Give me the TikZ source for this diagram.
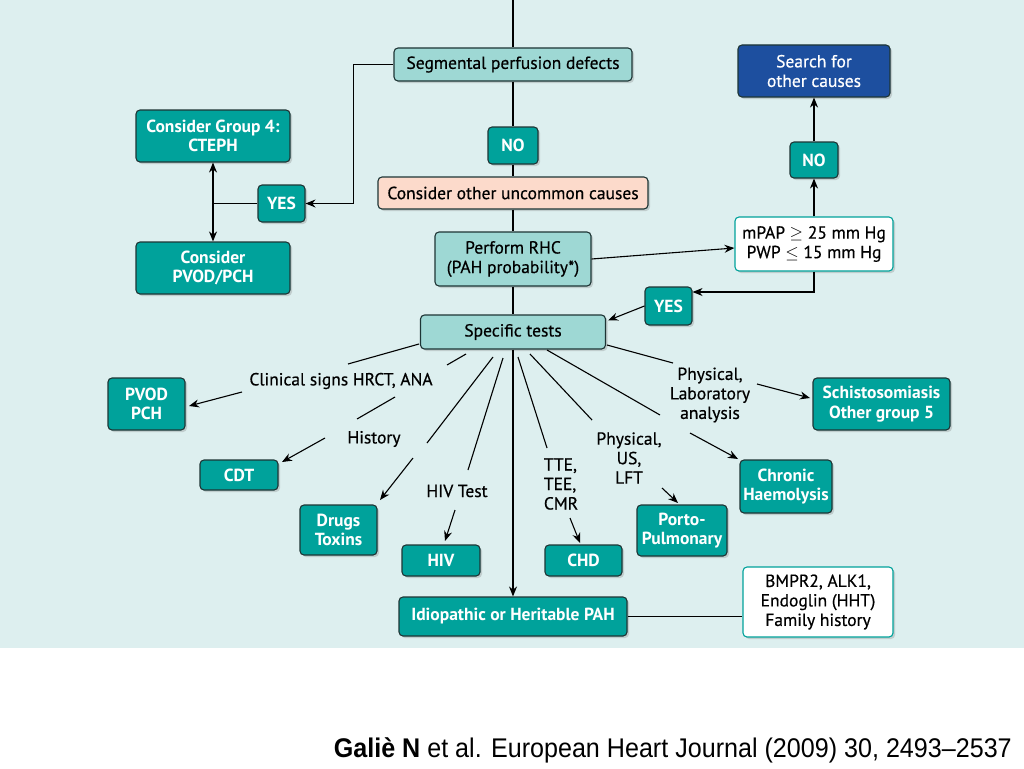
\documentclass[tikz,border=0pt]{standalone}
\usepackage{fontspec}
\setmainfont{PT Sans}
\newfontfamily\medfont[FakeBold=0.5]{PT Sans}
\newfontfamily\capfont[FakeStretch=0.93]{Liberation Sans}
\usetikzlibrary{shadows,arrows.meta}
\definecolor{bgc}{HTML}{DDEFEF}
\definecolor{tealc}{HTML}{00A29B}
\definecolor{lightc}{HTML}{9ED8D4}
\definecolor{pinkc}{HTML}{FCDACB}
\definecolor{bluec}{HTML}{1D4F9F}
\definecolor{edgec}{HTML}{1E3535}
\begin{document}
\begin{tikzpicture}[x=1pt,y=-1pt,
  every node/.style={font=\medfont\fontsize{17.5}{19.5}\selectfont},
  box/.style={rounded corners=4pt, draw=edgec, line width=1.1pt, align=center, inner sep=2pt,
    drop shadow={shadow xshift=2pt, shadow yshift=-2pt, opacity=0.3}},
  tbox/.style={box, fill=tealc, text=white, font=\fontsize{17.5}{19.5}\selectfont\bfseries},
  lbox/.style={box, fill=lightc},
  wbox/.style={box, fill=white, draw=tealc},
  lbl/.style={align=center, inner sep=1pt},
  conn/.style={line width=1.1pt, draw=black},
  arr/.style={conn, -{Stealth[length=10pt,width=8pt]}},
  arrb/.style={conn, {Stealth[length=10pt,width=8pt]}-{Stealth[length=10pt,width=8pt]}}
]
\fill[white] (0,0) rectangle (1024,768);
\fill[bgc] (0,0) rectangle (1024,648);
\useasboundingbox (0,0) rectangle (1024,768);

% main column
\coordinate (top) at (513,0);
\node[lbox, minimum width=238, minimum height=33] (seg) at (513,64.5) {Segmental perfusion defects};
\node[tbox, minimum width=50, minimum height=37] (no1) at (513,145.5) {NO};
\node[box, fill=pinkc, minimum width=270, minimum height=32] (other) at (513,193) {Consider other uncommon causes};
\node[lbox, minimum width=156, minimum height=54] (rhc) at (513,259) {Perform RHC\\(PAH probability*)};
\node[lbox, minimum width=185, minimum height=34] (spec) at (513,332) {Specific tests};
\node[tbox, minimum width=228, minimum height=39] (idio) at (513,616.5) {Idiopathic or Heritable PAH};

% left top
\node[tbox, minimum width=154, minimum height=52] (g4) at (213,136) {Consider Group 4:\\CTEPH};
\node[tbox, minimum width=47, minimum height=37] (yes1) at (281.5,203.5) {YES};
\node[tbox, minimum width=154, minimum height=52] (pvod1) at (213,268) {Consider\\PVOD/PCH};

% right top
\node[wbox, minimum width=158, minimum height=54] (mpap) at (814,244) {mPAP $\geq$ 25 mm Hg\\PWP $\leq$ 15 mm Hg};
\node[tbox, minimum width=48, minimum height=36] (no2) at (814,160) {NO};
\node[box, fill=bluec, text=white, minimum width=152, minimum height=52] (search) at (814,71) {Search for\\other causes};
\node[tbox, minimum width=47, minimum height=38] (yes2) at (668.5,306) {YES};

% bottom boxes
\node[tbox, minimum width=77, minimum height=52] (pvod2) at (146.5,404) {PVOD\\PCH};
\node[tbox, minimum width=78, minimum height=30] (cdt) at (239,475) {CDT};
\node[tbox, minimum width=77, minimum height=50] (drugs) at (338.5,530) {Drugs\\Toxins};
\node[tbox, minimum width=78, minimum height=31] (hiv) at (441,560.5) {HIV};
\node[tbox, minimum width=77, minimum height=31] (chd) at (583.5,560.5) {CHD};
\node[tbox, minimum width=90, minimum height=51] (porto) at (682,530.5) {Porto-\\Pulmonary};
\node[tbox, minimum width=92, minimum height=53] (chronic) at (786,486.5) {Chronic\\Haemolysis};
\node[tbox, minimum width=137, minimum height=52] (schisto) at (881.5,404) {Schistosomiasis\\Other group 5};
\node[wbox, minimum width=150, minimum height=70] (bmpr) at (818,602) {BMPR2, ALK1,\\Endoglin (HHT)\\Family history};

% labels
\node[lbl] (lclin) at (341,381) {Clinical signs HRCT, ANA};
\node[lbl] (lhist) at (374,439) {History};
\node[lbl] (lhiv) at (457,491) {HIV Test};
\node[lbl, align=left] (ltte) at (561,484) {TTE,\\TEE,\\CMR};
\node[lbl] (lus) at (629,458) {Physical,\\US,\\LFT};
\node[lbl] (llab) at (710,395) {Physical,\\Laboratory\\analysis};

% main connectors
\draw[conn] (top) -- (seg);
\draw[conn] (seg) -- (no1);
\draw[conn] (no1) -- (other);
\draw[conn] (other) -- (rhc);
\draw[conn] (rhc) -- (spec);
\draw[arr] (spec) -- (idio);

\draw[arr] (seg.west) -- ++(-40,0) |- (yes1.east);
\draw[arrb] (g4.south) -- (pvod1.north);
\draw[conn] (yes1.west) -- (yes1.west -| g4.south);

\draw[arr] (rhc.east) -- ([yshift=-4pt]mpap.west);
\draw[arr] (mpap.north) -- (no2.south);
\draw[arr] (no2.north) -- (search.south);
\draw[arr] (mpap.south) |- ([yshift=14pt]yes2.east);
\draw[arr] (yes2.west) -- ([yshift=-6pt,xshift=2pt]spec.north east);

\draw[conn] (idio.east) -- (bmpr.west |- idio.east);

% fan coordinates
\coordinate (a1) at (419,344); \coordinate (a2) at (348,364);
\coordinate (a3) at (242,392); \coordinate (a4) at (189,406);
\coordinate (b1) at (466,354); \coordinate (b2) at (447,365);
\coordinate (b3) at (395,397); \coordinate (b4) at (357,419);
\coordinate (b5) at (325,438); \coordinate (b6) at (282,462);
\coordinate (c1) at (493,357); \coordinate (c2) at (427,443);
\coordinate (c3) at (413,458); \coordinate (c4) at (380,500);
\coordinate (d1) at (503,358); \coordinate (d2) at (468,470);
\coordinate (d3) at (455,510); \coordinate (d4) at (445,541);
\coordinate (e1) at (518,357); \coordinate (e2) at (547,448);
\coordinate (e3) at (570,518); \coordinate (e4) at (580,543);
\coordinate (f1) at (530,354); \coordinate (f2) at (592,420);
\coordinate (f3) at (662,488); \coordinate (f4) at (678,503);
\coordinate (g1) at (547,350); \coordinate (g2) at (660,415);
\coordinate (g3) at (690,433); \coordinate (g4c) at (738,459);
\coordinate (h1) at (607,345); \coordinate (h2) at (673,363);
\coordinate (h3) at (757,384); \coordinate (h4) at (810,398);

\draw[conn] (a1) -- (a2); \draw[arr] (a3) -- (a4);
\draw[conn] (b1) -- (b2); \draw[conn] (b3) -- (b4); \draw[arr] (b5) -- (b6);
\draw[conn] (c1) -- (c2); \draw[arr] (c3) -- (c4);
\draw[conn] (d1) -- (d2); \draw[arr] (d3) -- (d4);
\draw[conn] (e1) -- (e2); \draw[arr] (e3) -- (e4);
\draw[conn] (f1) -- (f2); \draw[arr] (f3) -- (f4);
\draw[conn] (g1) -- (g2); \draw[arr] (g3) -- (g4c);
\draw[conn] (h1) -- (h2); \draw[arr] (h3) -- (h4);

% caption
\node[anchor=base east, inner sep=0pt, font=\capfont\fontsize{27}{31}\selectfont] (cap) at (1012,757) {\textbf{Galiè N} et al. European Heart Journal (2009) 30, 2493–2537};
\end{tikzpicture}
\end{document}
